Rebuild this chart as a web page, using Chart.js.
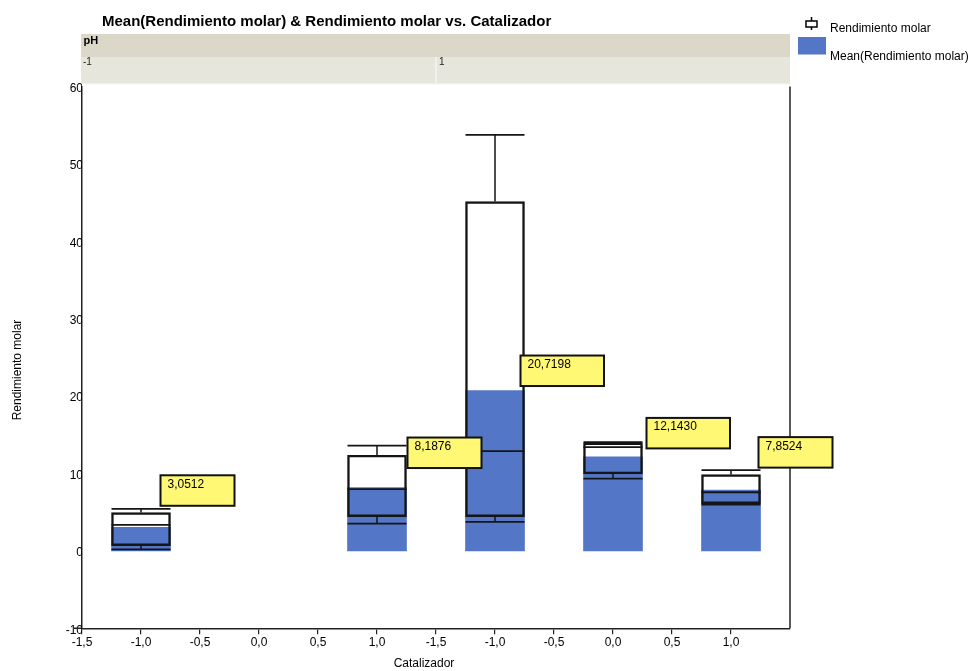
<!DOCTYPE html>
<html>
<head>
<meta charset="utf-8">
<script src="https://cdn.jsdelivr.net/npm/chart.js@4.4.1/dist/chart.umd.min.js"></script>
<style>
  html, body { margin: 0; padding: 0; background: #fff; }
  #wrap { width: 970px; height: 671px; }
</style>
</head>
<body>
<div id="wrap"><canvas id="chart" width="970" height="671"></canvas></div>
<script>
// pH panels and the Catalizador level of each group
const phLevels = ['-1', '1'];
const phGroup = [0, 0, 1, 1, 1];
const catalizador = [-1, 1, -1, 0, 1];

// Mean(Rendimiento molar) per group
const meanYield = [3.0512, 8.1876, 20.7198, 12.1430, 7.8524];

// Rendimiento molar box plot statistics per group
const whiskerLow = [0.19, 3.53, 3.75, 9.34, 5.98];
const quartile1 = [0.68, 4.43, 4.43, 9.95, 6.11];
const medianYield = [3.36, 7.97, 12.88, 13.40, 7.58];
const quartile3 = [4.95, 12.36, 45.13, 13.95, 9.86];
const whiskerHigh = [5.43, 13.60, 53.75, 14.05, 10.43];

// Axis ticks
const catTicks = [-1.5, -1.0, -0.5, 0.0, 0.5, 1.0];
const yTicks = [-10, 0, 10, 20, 30, 40, 50, 60];

// ---- drawing setup ----
const FONT = "'Liberation Sans', Arial, Helvetica, sans-serif";
const BLUE = '#5376C6';
const INK = '#151515';
const PANEL = 3;                       // width of one pH panel on the x scale
const xPos = catalizador.map((c, i) => c + PANEL * phGroup[i]);

// pixel shift of each value callout from the top-right corner of its bar
const calloutShift = [[-10, -52], [1, -50], [-4, -35], [4, -39], [-2, -53]];

Chart.defaults.font.family = FONT;
Chart.defaults.font.size = 12;
Chart.defaults.color = '#000';

const fmtComma = (v, d) => v.toFixed(d).replace('.', ',');

const decor = {
  id: 'decor',
  beforeDraw(chart) {
    const { ctx, chartArea: a, scales: { x } } = chart;
    ctx.save();
    ctx.fillStyle = '#fff';
    ctx.fillRect(0, 0, chart.width, chart.height);

    // title
    ctx.fillStyle = '#000';
    ctx.font = 'bold 15px ' + FONT;
    ctx.textBaseline = 'alphabetic';
    ctx.textAlign = 'left';
    ctx.fillText('Mean(Rendimiento molar) & Rendimiento molar vs. Catalizador', 102, 25.5);

    // pH header strip
    const L = a.left - 1, R = a.right;
    ctx.fillStyle = '#DBD8C9';
    ctx.fillRect(L, 34, R - L, 23);
    ctx.fillStyle = '#000';
    ctx.font = 'bold 11px ' + FONT;
    ctx.fillText('pH', L + 2.5, 44);

    // pH level cells
    ctx.fillStyle = '#F1F1EB';
    ctx.fillRect(L, 57, R - L, 27.5);
    phLevels.forEach((lvl, g) => {
      const x0 = x.getPixelForValue(-1.5 + PANEL * g);
      const x1 = x.getPixelForValue(1.5 + PANEL * g);
      const cl = g === 0 ? L : x0 + 1;
      const cr = g === phLevels.length - 1 ? R : x1 - 1;
      ctx.fillStyle = '#E6E6DD';
      ctx.fillRect(cl, 57, cr - cl, 26);
      ctx.fillStyle = '#222';
      ctx.font = '10px ' + FONT;
      ctx.fillText(lvl, cl + 2, 64.5);
    });

    // legend
    ctx.strokeStyle = '#000';
    ctx.lineWidth = 1.5;
    ctx.beginPath();
    ctx.moveTo(811.5, 17); ctx.lineTo(811.5, 21);
    ctx.moveTo(811.5, 27); ctx.lineTo(811.5, 30);
    ctx.stroke();
    ctx.strokeRect(806, 21, 11, 6);
    ctx.fillStyle = BLUE;
    ctx.fillRect(798, 37, 28, 17.5);
    ctx.fillStyle = '#000';
    ctx.font = '12px ' + FONT;
    ctx.fillText('Rendimiento molar', 830, 32);
    ctx.fillText('Mean(Rendimiento molar)', 830, 60);

    // axis titles
    ctx.textAlign = 'center';
    ctx.textBaseline = 'middle';
    ctx.fillText('Catalizador', 424, 664);
    ctx.translate(17.5, 370);
    ctx.rotate(-Math.PI / 2);
    ctx.fillText('Rendimiento molar', 0, 0);
    ctx.restore();
  },
  afterDatasetsDraw(chart) {
    const { ctx, scales: { y } } = chart;
    const boxes = chart.getDatasetMeta(0).data;
    ctx.save();
    ctx.strokeStyle = INK;
    boxes.forEach((el, i) => {
      const cx = el.x, h = el.width / 2;
      const yHi = y.getPixelForValue(whiskerHigh[i]);
      const yLo = y.getPixelForValue(whiskerLow[i]);
      const yQ3 = y.getPixelForValue(quartile3[i]);
      const yQ1 = y.getPixelForValue(quartile1[i]);
      const yMed = y.getPixelForValue(medianYield[i]);
      ctx.lineWidth = 1.5;
      ctx.beginPath();
      ctx.moveTo(cx, yHi); ctx.lineTo(cx, yQ3);
      ctx.moveTo(cx, yQ1); ctx.lineTo(cx, yLo);
      ctx.stroke();
      ctx.lineWidth = 1.8;
      ctx.beginPath();
      ctx.moveTo(cx - h, yHi); ctx.lineTo(cx + h, yHi);
      ctx.moveTo(cx - h, yLo); ctx.lineTo(cx + h, yLo);
      ctx.moveTo(cx - h, yMed); ctx.lineTo(cx + h, yMed);
      ctx.stroke();
    });
    ctx.restore();
  },
  afterDraw(chart) {
    const { ctx, chartArea: a } = chart;
    ctx.save();
    // right frame line and the short run of the x axis left of the y axis
    ctx.strokeStyle = '#222';
    ctx.lineWidth = 1.5;
    ctx.beginPath();
    ctx.moveTo(a.right, a.top);
    ctx.lineTo(a.right, a.bottom);
    ctx.moveTo(a.left - 8, a.bottom);
    ctx.lineTo(a.left, a.bottom);
    ctx.stroke();

    // value callouts for the means
    const bars = chart.getDatasetMeta(1).data;
    ctx.font = '12px ' + FONT;
    ctx.textAlign = 'left';
    ctx.textBaseline = 'alphabetic';
    bars.forEach((el, i) => {
      const label = fmtComma(meanYield[i], 4);
      const left = el.x + el.width / 2 + calloutShift[i][0];
      const top = el.y + calloutShift[i][1];
      const w = 17 + 9.5 * label.length, hgt = 30.5;
      ctx.fillStyle = '#FFF875';
      ctx.fillRect(left, top, w, hgt);
      ctx.strokeStyle = '#111';
      ctx.lineWidth = 2;
      ctx.strokeRect(left, top, w, hgt);
      ctx.fillStyle = '#000';
      ctx.fillText(label, left + 7, top + 12.5);
    });
    ctx.restore();
  }
};

const boxData = xPos.map((x, i) => ({ x, y: [quartile1[i], quartile3[i]] }));

new Chart(document.getElementById('chart'), {
  type: 'bar',
  data: {
    datasets: [
      {
        label: 'Rendimiento molar',
        data: boxData,
        backgroundColor: 'rgba(0,0,0,0)',
        borderColor: INK,
        borderWidth: 1.8,
        borderSkipped: false,
        grouped: false,
        order: 0
      },
      {
        label: 'Mean(Rendimiento molar)',
        data: xPos.map((x, i) => ({ x, y: meanYield[i] })),
        backgroundColor: BLUE,
        borderWidth: 0,
        grouped: false,
        order: 1
      },
      {
        label: 'box fill',
        data: boxData,
        backgroundColor: '#fff',
        borderWidth: 0,
        grouped: false,
        order: 2
      }
    ]
  },
  options: {
    responsive: false,
    animation: false,
    events: [],
    layout: { padding: { left: 0, right: 180, top: 86.5, bottom: 0 } },
    datasets: { bar: { categoryPercentage: 1, barPercentage: 1 } },
    plugins: { legend: { display: false }, tooltip: { enabled: false } },
    scales: {
      x: {
        type: 'linear',
        offset: false,
        min: -1.5,
        max: 4.5,
        afterBuildTicks: s => {
          s.ticks = phLevels.flatMap((_, g) => catTicks.map(v => ({ value: v + PANEL * g })));
        },
        afterFit: s => { s.height = 42.7; },
        grid: { display: true, offset: false, drawOnChartArea: false, drawTicks: true, tickLength: 6, color: '#222', lineWidth: 1.2 },
        border: { display: true, color: '#222', width: 1.5 },
        ticks: {
          padding: 1,
          maxRotation: 0,
          autoSkip: false,
          color: '#000',
          callback: v => {
            const g = Math.floor((v + 1.5 + 1e-9) / PANEL);
            return fmtComma(v - PANEL * g, 1);
          }
        }
      },
      y: {
        type: 'linear',
        min: -10,
        max: 60,
        afterBuildTicks: s => { s.ticks = yTicks.map(v => ({ value: v })); },
        afterFit: s => { s.width = 82; },
        grid: { display: false, drawTicks: false },
        border: { display: true, color: '#222', width: 1.5 },
        ticks: { padding: -1, labelOffset: 2, color: '#000' }
      }
    }
  },
  plugins: [decor]
});
</script>
</body>
</html>
